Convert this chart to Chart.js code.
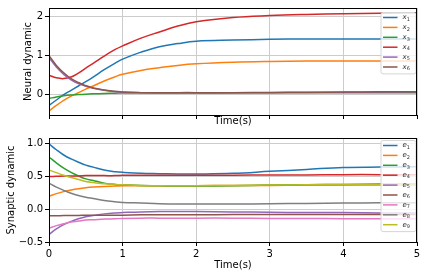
<!DOCTYPE html>
<html>
<head>
<meta charset="utf-8">
<script src="https://cdn.jsdelivr.net/npm/chart.js@4"></script>
<style>
  body { margin: 0; background: #fff; }
  #wrap { position: relative; width: 428px; height: 278px; }
  canvas { position: absolute; left: 0; }
</style>
</head>
<body>
<div id="wrap">
  <canvas id="neural" width="428" height="130" style="top:0"></canvas>
  <canvas id="synaptic" width="428" height="148" style="top:130px"></canvas>
</div>
<script>
// time samples (s)
const times = [0, 0.1, 0.2, 0.3, 0.4, 0.5, 0.6, 0.75, 0.9, 1, 1.25, 1.5, 1.75, 2, 2.5, 3, 3.5, 4, 4.5, 5];

// neural dynamic
const x1 = [-0.28, -0.14, 0.0, 0.11, 0.22, 0.33, 0.45, 0.64, 0.81, 0.91, 1.09, 1.23, 1.31, 1.37, 1.40, 1.42, 1.43, 1.43, 1.43, 1.43];
const x2 = [-0.42, -0.28, -0.15, -0.04, 0.05, 0.14, 0.22, 0.35, 0.46, 0.52, 0.62, 0.69, 0.75, 0.79, 0.83, 0.85, 0.86, 0.86, 0.86, 0.86];
const x3 = [-0.1, -0.06, -0.03, -0.01, 0.0, 0.01, 0.02, 0.03, 0.035, 0.04, 0.045, 0.045, 0.05, 0.05, 0.05, 0.05, 0.05, 0.05, 0.05, 0.05];
const x4 = [0.5, 0.43, 0.41, 0.45, 0.55, 0.68, 0.8, 0.99, 1.16, 1.25, 1.45, 1.61, 1.76, 1.87, 1.98, 2.03, 2.06, 2.08, 2.09, 2.1];
const x5 = [0.95, 0.71, 0.52, 0.38, 0.28, 0.21, 0.16, 0.11, 0.075, 0.06, 0.045, 0.04, 0.04, 0.04, 0.045, 0.05, 0.055, 0.06, 0.065, 0.07];
const x6 = [1.0, 0.75, 0.56, 0.41, 0.31, 0.23, 0.17, 0.12, 0.085, 0.065, 0.05, 0.045, 0.045, 0.045, 0.05, 0.055, 0.06, 0.065, 0.07, 0.075];

// synaptic dynamic
const e1 = [1.0, 0.91, 0.83, 0.77, 0.72, 0.675, 0.645, 0.6, 0.575, 0.565, 0.55, 0.545, 0.54, 0.54, 0.55, 0.58, 0.61, 0.64, 0.645, 0.65];
const e2 = [0.2, 0.24, 0.27, 0.295, 0.315, 0.33, 0.34, 0.35, 0.355, 0.36, 0.36, 0.36, 0.36, 0.36, 0.365, 0.365, 0.37, 0.37, 0.37, 0.37];
const e3 = [0.8, 0.71, 0.63, 0.565, 0.51, 0.465, 0.44, 0.4, 0.38, 0.375, 0.365, 0.36, 0.355, 0.355, 0.36, 0.37, 0.375, 0.38, 0.385, 0.39];
const e4 = [0.5, 0.505, 0.51, 0.51, 0.51, 0.515, 0.515, 0.515, 0.515, 0.52, 0.52, 0.52, 0.52, 0.52, 0.52, 0.525, 0.525, 0.53, 0.53, 0.53];
const e5 = [-0.385, -0.3, -0.235, -0.185, -0.145, -0.115, -0.095, -0.07, -0.055, -0.05, -0.04, -0.035, -0.035, -0.035, -0.04, -0.045, -0.05, -0.05, -0.055, -0.055];
const e6 = [-0.1, -0.1, -0.095, -0.095, -0.095, -0.09, -0.09, -0.09, -0.09, -0.09, -0.085, -0.085, -0.085, -0.085, -0.08, -0.08, -0.08, -0.08, -0.08, -0.08];
const e7 = [-0.29, -0.25, -0.22, -0.195, -0.18, -0.165, -0.16, -0.15, -0.145, -0.14, -0.135, -0.135, -0.135, -0.135, -0.135, -0.14, -0.14, -0.145, -0.145, -0.145];
const e8 = [0.4, 0.34, 0.29, 0.245, 0.21, 0.185, 0.165, 0.135, 0.115, 0.105, 0.095, 0.085, 0.08, 0.08, 0.08, 0.085, 0.09, 0.095, 0.1, 0.1];
const e9 = [0.6, 0.56, 0.52, 0.485, 0.455, 0.425, 0.41, 0.39, 0.38, 0.375, 0.365, 0.36, 0.36, 0.36, 0.365, 0.37, 0.375, 0.38, 0.38, 0.385];

const neuralSeries = [x1, x2, x3, x4, x5, x6];
const synapticSeries = [e1, e2, e3, e4, e5, e6, e7, e8, e9];

// tick labels
const xTicks = [0, 1, 2, 3, 4, 5];
const neuralTicks = [0, 1, 2];
const synapticTicks = [-0.5, 0, 0.5, 1.0];

const colors = ['#1f77b4', '#ff7f0e', '#2ca02c', '#d62728', '#9467bd',
                '#8c564b', '#e377c2', '#7f7f7f', '#bcbd22'];

Chart.defaults.font.family = 'DejaVu Sans';
Chart.defaults.font.size = 10;
Chart.defaults.color = '#000';

function makeSets(series) {
    return series.map((vals, i) => ({
        label: String(i + 1),
        data: times.map((t, j) => ({x: t, y: vals[j]})),
        borderColor: colors[i],
        borderWidth: 1.5,
        pointRadius: 0,
        tension: 0.4,
        order: series.length - i   // later series on top, like matplotlib
    }));
}

// box around the plot area
const frame = {
    id: 'frame',
    afterDraw(chart) {
        const {ctx, chartArea: a} = chart;
        ctx.save();
        ctx.strokeStyle = '#000';
        ctx.lineWidth = 1;
        ctx.strokeRect(Math.round(a.left) + 0.5, Math.round(a.top) + 0.5,
            Math.round(a.right - a.left) - 1, Math.round(a.bottom - a.top));
        ctx.restore();
    }
};

// small legend in the upper right corner
const cornerLegend = {
    id: 'cornerLegend',
    afterDatasetsDraw(chart, args, opts) {
        const {ctx, chartArea: a} = chart;
        const sets = chart.data.datasets;
        const rowH = 9.9;
        const w = 35, h = sets.length * rowH + 2;
        const x0 = a.right - w - 1.5, y0 = a.top + opts.top;
        ctx.save();
        ctx.beginPath();
        ctx.roundRect(x0 + 0.5, y0 + 0.5, w, h, 2);
        ctx.fillStyle = 'rgba(255,255,255,0.8)';
        ctx.fill();
        ctx.strokeStyle = '#d6d6d6';
        ctx.lineWidth = 1;
        ctx.stroke();
        sets.forEach((ds, i) => {
            const y = y0 + 5.5 + i * rowH;
            ctx.beginPath();
            ctx.moveTo(x0 + 2.5, y);
            ctx.lineTo(x0 + 17, y);
            ctx.strokeStyle = ds.borderColor;
            ctx.lineWidth = 1.5;
            ctx.stroke();
            ctx.fillStyle = '#333';
            ctx.textBaseline = 'middle';
            ctx.font = 'italic 7px DejaVu Sans';
            ctx.fillText(opts.symbol, x0 + 22, y);
            const sw = ctx.measureText(opts.symbol).width;
            ctx.font = '5px DejaVu Sans';
            ctx.fillText(ds.label, x0 + 22 + sw, y + 2);
        });
        ctx.restore();
    }
};

function makeChart(id, series, yMin, yMax, yTicks, yFmt, yTitle, opt) {
    new Chart(document.getElementById(id), {
        type: 'line',
        data: {datasets: makeSets(series)},
        options: {
            responsive: false,
            animation: false,
            layout: {padding: {top: 6, right: 11, left: 0, bottom: 0}},
            plugins: {
                legend: {display: false},
                tooltip: {enabled: false},
                cornerLegend: {symbol: opt.symbol, top: opt.legendTop}
            },
            scales: {
                x: {
                    type: 'linear',
                    min: 0,
                    max: 5,
                    afterBuildTicks: s => { s.ticks = xTicks.map(v => ({value: v})); },
                    afterFit: s => { s.height = opt.xHeight; },
                    ticks: {
                        padding: 2,
                        maxRotation: 0,
                        callback: v => opt.xLabels ? String(v) : ''
                    },
                    grid: {color: '#cccccc', lineWidth: 1, tickColor: '#000', tickLength: 4},
                    border: {color: '#000'},
                    title: {display: true, text: 'Time(s)', padding: {top: 0, bottom: opt.xTitlePad}}
                },
                y: {
                    min: yMin,
                    max: yMax,
                    afterBuildTicks: s => { s.ticks = yTicks.map(v => ({value: v})); },
                    afterFit: s => { s.width = 49; },
                    ticks: {padding: 2, callback: yFmt},
                    grid: {color: '#cccccc', lineWidth: 1, tickColor: '#000', tickLength: 4},
                    border: {color: '#000'},
                    title: {display: true, text: yTitle, padding: {top: opt.yTitlePad, bottom: 0}}
                }
            }
        },
        plugins: [frame, cornerLegend]
    });
}

makeChart('neural', neuralSeries, -0.525, 2.225, neuralTicks,
    v => String(v), 'Neural dynamic',
    {symbol: 'x', legendTop: 4, xHeight: 15, xLabels: false, xTitlePad: 3, yTitlePad: 22});

makeChart('synaptic', synapticSeries, -0.5, 1.09, synapticTicks,
    v => v.toFixed(1).replace('-', '\u2212'), 'Synaptic dynamic',
    {symbol: 'e', legendTop: 2, xHeight: 36, xLabels: true, xTitlePad: 6.5, yTitlePad: 5});
</script>
</body>
</html>
